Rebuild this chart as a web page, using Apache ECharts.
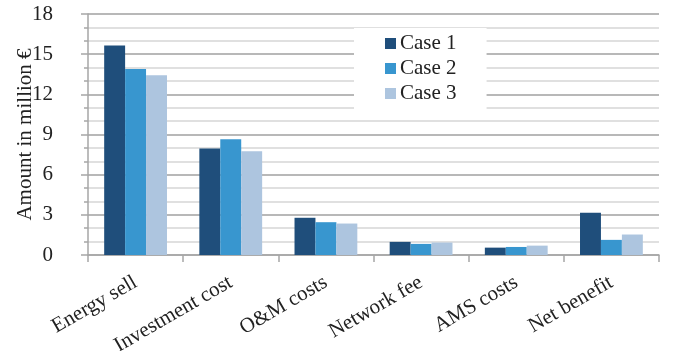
<!DOCTYPE html>
<html>
<head>
<meta charset="utf-8">
<script src="https://cdn.jsdelivr.net/npm/echarts@6/dist/echarts.min.js"></script>
<style>
  html, body { margin: 0; padding: 0; background: #ffffff; }
  #chart { width: 674px; height: 351px; }
</style>
</head>
<body>
<div id="chart"></div>
<script>
// Cost / benefit breakdown per case, in million euro
const categories = ['Energy sell', 'Investment cost', 'O&M costs', 'Network fee', 'AMS costs', 'Net benefit'];
const case1 = [15.65, 7.95, 2.78, 0.98, 0.55, 3.15];
const case2 = [13.9, 8.65, 2.45, 0.83, 0.6, 1.13];
const case3 = [13.43, 7.75, 2.35, 0.93, 0.7, 1.53];
const seriesNames = ['Case 1', 'Case 2', 'Case 3'];
const seriesColors = ['#1f4e7b', '#3896cf', '#adc5df'];

const serif = '"Liberation Serif", "DejaVu Serif", serif';
const axisGray = '#a6a6a6';

const chart = echarts.init(document.getElementById('chart'), null, { renderer: 'canvas' });

const values = [case1, case2, case3];

chart.setOption({
  animation: false,
  backgroundColor: '#ffffff',
  grid: { left: 88, right: 15, top: 14, bottom: 96, containLabel: false, outerBoundsMode: 'none' },
  legend: {
    orient: 'vertical',
    left: 354,
    top: 28,
    data: seriesNames,
    backgroundColor: '#ffffff',
    padding: [5, 30, 10, 31],
    itemGap: 4,
    itemWidth: 11,
    itemHeight: 11,
    icon: 'rect',
    textStyle: { fontFamily: serif, fontSize: 21, color: '#222222', padding: [0, 0, 0, -1] }
  },
  xAxis: [
    {
      type: 'category',
      data: categories,
      axisLine: { show: true, lineStyle: { color: axisGray, width: 1.5 } },
      axisTick: { show: true, length: 7, lineStyle: { color: axisGray, width: 1.5 } },
      axisLabel: {
        rotate: 30,
        margin: 26,
        fontFamily: serif,
        fontSize: 21,
        color: '#222222'
      },
      splitLine: { show: false }
    },
    {
      // short inward marks at each category centre
      type: 'category',
      data: categories,
      position: 'bottom',
      axisLine: { show: false },
      axisTick: { show: true, inside: true, alignWithLabel: true, length: 5, lineStyle: { color: axisGray, width: 1.5 } },
      axisLabel: { show: false },
      splitLine: { show: false }
    }
  ],
  yAxis: {
    type: 'value',
    min: 0,
    max: 18,
    interval: 3,
    name: 'Amount in million €',
    nameLocation: 'middle',
    nameGap: 52,
    nameMoveOverlap: false,
    nameTextStyle: { fontFamily: serif, fontSize: 21, color: '#222222' },
    axisLine: { show: true, lineStyle: { color: axisGray, width: 1.5 } },
    axisTick: { show: true, length: 7, lineStyle: { color: axisGray, width: 1.5 } },
    minorTick: { show: true, splitNumber: 3, length: 4, lineStyle: { color: axisGray, width: 1.5 } },
    axisLabel: { margin: 35, fontFamily: serif, fontSize: 21, color: '#222222' },
    splitLine: { show: true, lineStyle: { color: '#a0a0a0', width: 1.5 } },
    minorSplitLine: { show: true, lineStyle: { color: '#d6d6d6', width: 1.5 } }
  },
  series: seriesNames.map((name, i) => ({
    name: name,
    type: 'bar',
    xAxisIndex: 0,
    data: values[i],
    barGap: '0%',
    barCategoryGap: '34%',
    itemStyle: { color: seriesColors[i] },
    z: 3
  }))
});
</script>
</body>
</html>
